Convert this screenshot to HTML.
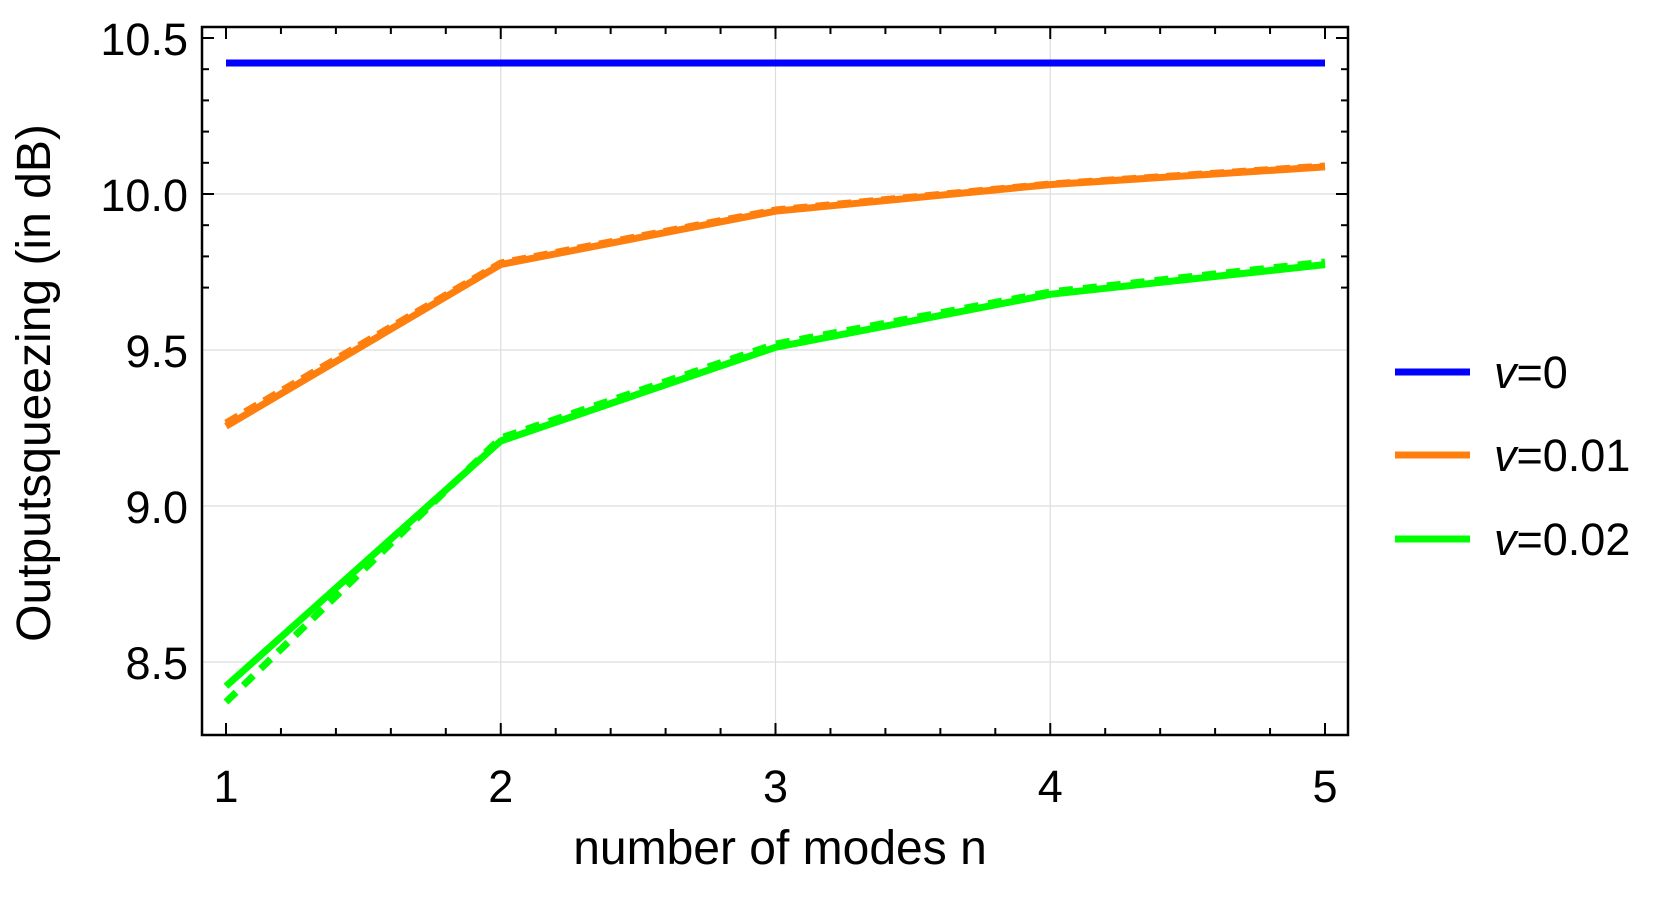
<!DOCTYPE html>
<html><head><meta charset="utf-8"><style>
html,body{margin:0;padding:0;background:#fff;}
text{font-family:"Liberation Sans",sans-serif;fill:#000;}
</style></head><body>
<svg width="1661" height="911" viewBox="0 0 1661 911" xmlns="http://www.w3.org/2000/svg">
<g stroke="#ddd" stroke-width="1.2">
<line x1="500.75" y1="27" x2="500.75" y2="735"/>
<line x1="775.5" y1="27" x2="775.5" y2="735"/>
<line x1="1050.25" y1="27" x2="1050.25" y2="735"/>
<line x1="202" y1="194" x2="1348" y2="194"/>
<line x1="202" y1="350" x2="1348" y2="350"/>
<line x1="202" y1="506" x2="1348" y2="506"/>
<line x1="202" y1="662" x2="1348" y2="662"/>
</g>
<g id="ticks" stroke="#000" stroke-width="2">
</g>
<rect x="202" y="27" width="1146" height="708" fill="none" stroke="#000" stroke-width="2.5"/>
<g fill="none" stroke-width="7" stroke-linejoin="round">
<polyline stroke="#0000ff" points="226,63 1325,63"/>
<polyline stroke="#ff7f0e" points="226,426.2 500.75,264.5 775.5,211.2 1050.25,184.6 1325,166.9"/>
<polyline stroke="#ff7f0e" stroke-dasharray="14,8" points="226,423 500.75,263 775.5,210 1050.25,184 1325,166"/>
<polyline stroke="#00ff00" points="226,686.2 500.75,441.0 775.5,347.3 1050.25,294.3 1325,264.6"/>
<polyline stroke="#00ff00" stroke-dasharray="14,10" points="226,702 500.75,438 775.5,344 1050.25,292 1325,262"/>
</g>
<g font-size="45" text-anchor="end">
<text x="188" y="55">10.5</text>
<text x="188" y="211">10.0</text>
<text x="188" y="367">9.5</text>
<text x="188" y="523">9.0</text>
<text x="188" y="679">8.5</text>
</g>
<g font-size="45" text-anchor="middle">
<text x="226" y="802">1</text>
<text x="500.75" y="802">2</text>
<text x="775.5" y="802">3</text>
<text x="1050.25" y="802">4</text>
<text x="1325" y="802">5</text>
</g>
<text x="780" y="864" font-size="48" text-anchor="middle">number of modes n</text>
<text transform="translate(50,383) rotate(-90)" font-size="48" text-anchor="middle">Outputsqueezing (in dB)</text>
<g stroke-width="7">
<line x1="1395" y1="372" x2="1470" y2="372" stroke="#0000ff"/>
<line x1="1395" y1="455" x2="1470" y2="455" stroke="#ff7f0e"/>
<line x1="1395" y1="539" x2="1470" y2="539" stroke="#00ff00"/>
</g>
<g font-size="45">
<text x="1494" y="388"><tspan font-style="italic">v</tspan>=0</text>
<text x="1494" y="471"><tspan font-style="italic">v</tspan>=0.01</text>
<text x="1494" y="555"><tspan font-style="italic">v</tspan>=0.02</text>
</g>
</svg>
<script>
var g=document.getElementById('ticks'),s='';
for(var i=0;i<=20;i++){var x=226+i*274.75/5;if(x>1348)break;var L=(i%5==0)?12:7;
s+='<line x1="'+x+'" y1="735" x2="'+x+'" y2="'+(735-L)+'"/><line x1="'+x+'" y1="27" x2="'+x+'" y2="'+(27+L)+'"/>';}
for(var j=-3;j<=25;j++){var y=194-j*31.2;if(y<27||y>735)continue;var L=(j%5==0)?12:7;
s+='<line x1="202" y1="'+y+'" x2="'+(202+L)+'" y2="'+y+'"/><line x1="1348" y1="'+y+'" x2="'+(1348-L)+'" y2="'+y+'"/>';}
g.innerHTML=s;
</script>
</body></html>
